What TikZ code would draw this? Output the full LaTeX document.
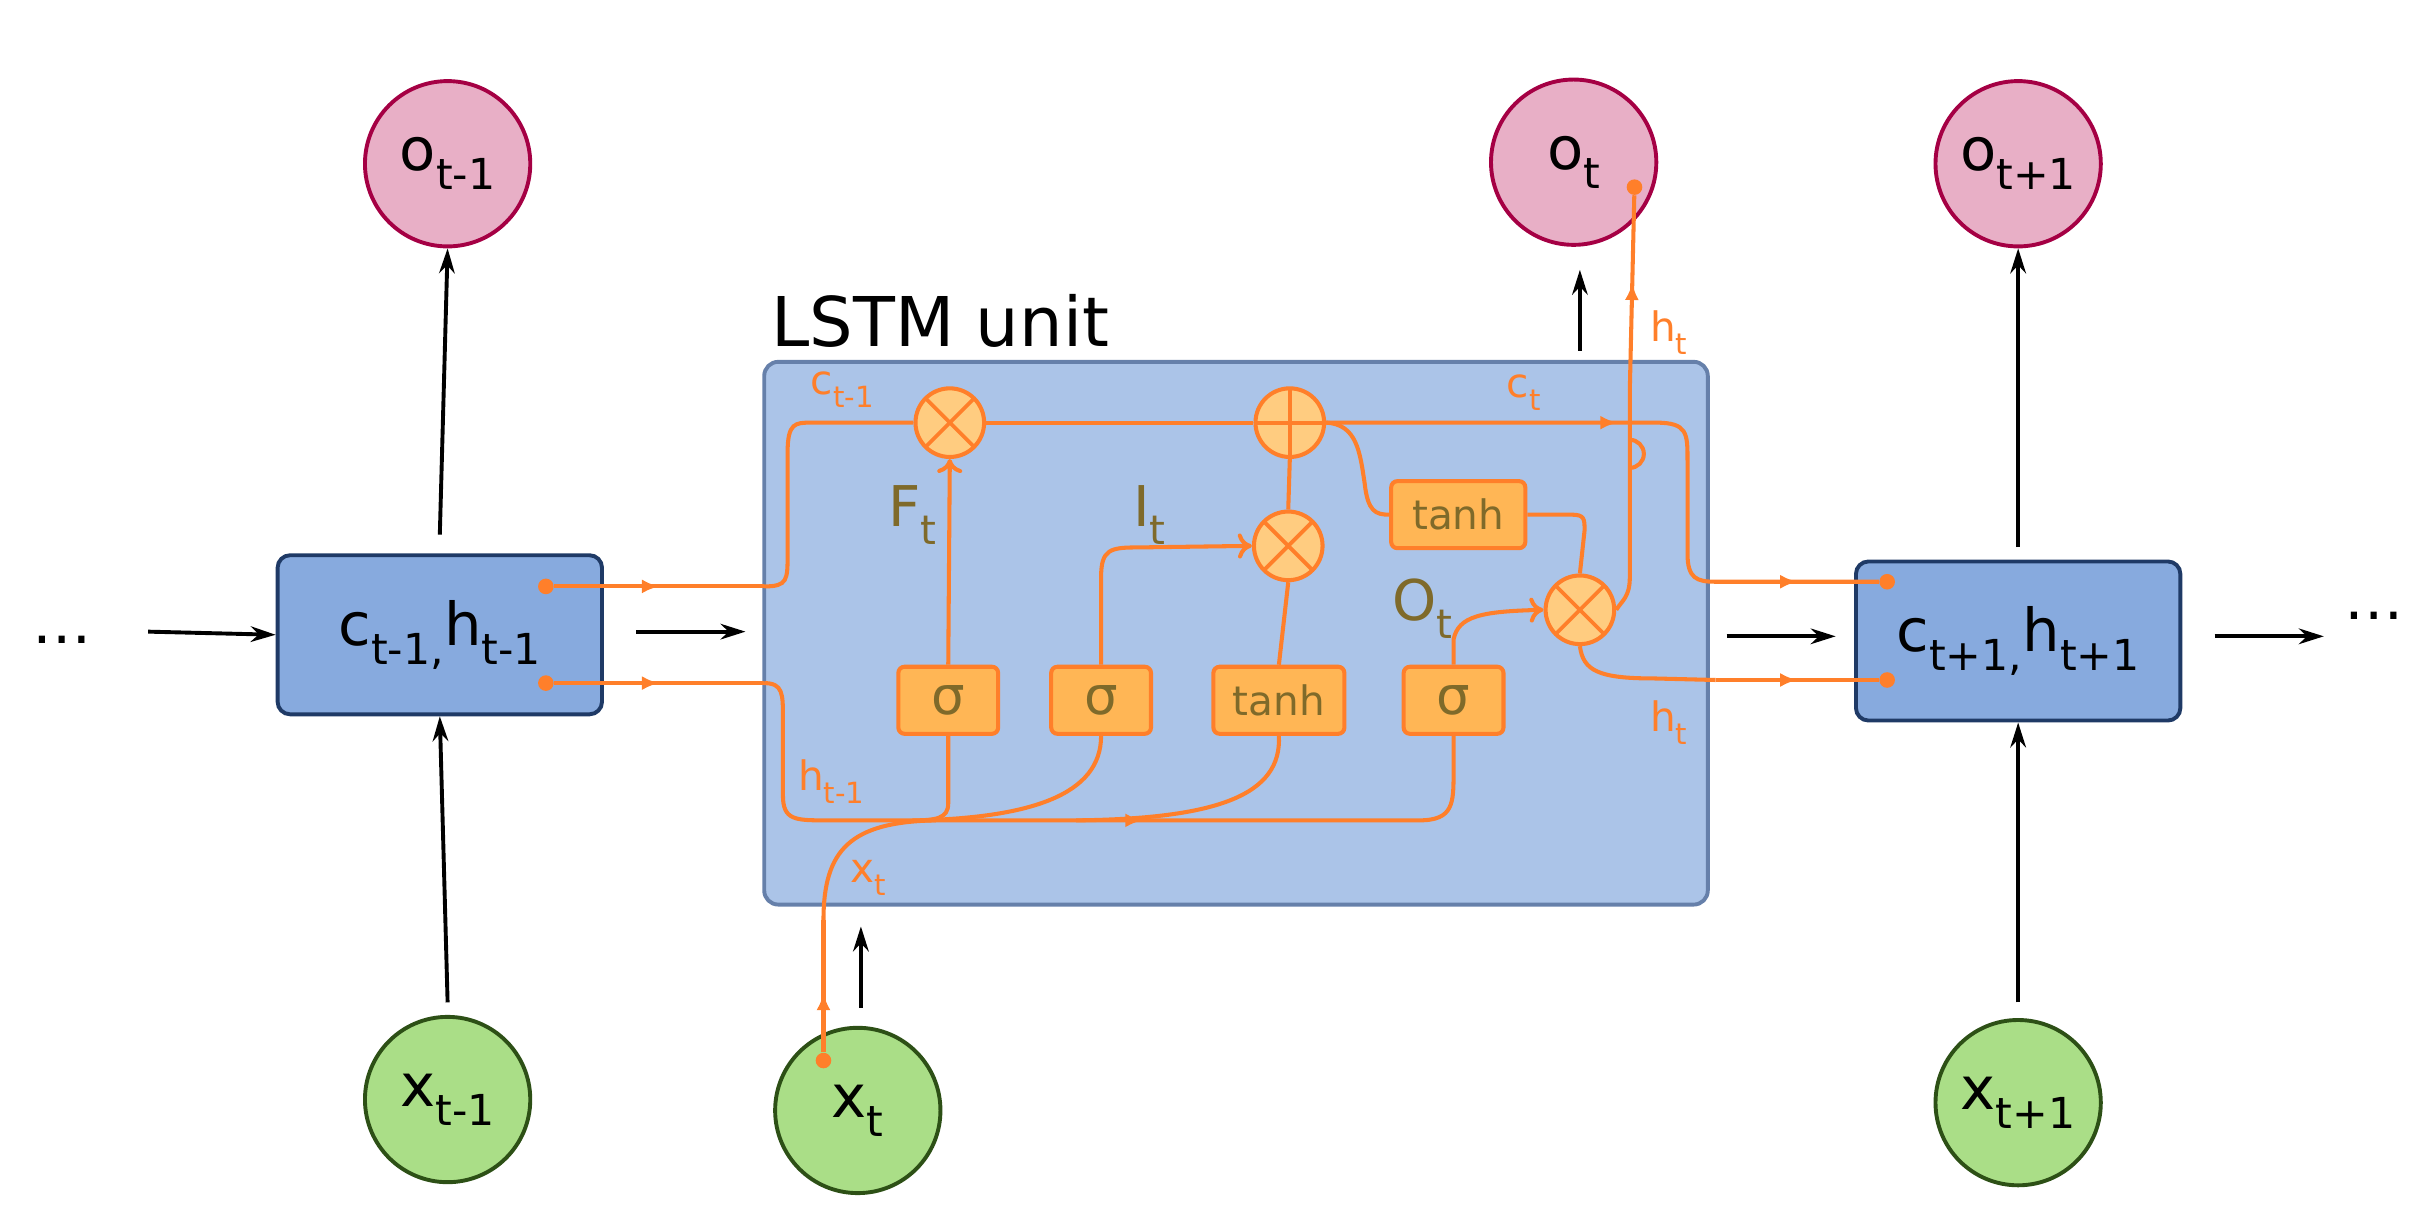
\documentclass[tikz,border=0pt]{standalone}
\usepackage{fontspec}
\setmainfont{DejaVu Sans}
\usetikzlibrary{arrows.meta,decorations.markings}
\definecolor{orng}{HTML}{FF7F2A}
\definecolor{opfill}{HTML}{FFCC80}
\definecolor{gfill}{HTML}{FFB655}
\definecolor{olive}{HTML}{7F6A2A}
\definecolor{pinkf}{HTML}{E8AFC6}
\definecolor{pinkd}{HTML}{A50044}
\definecolor{greenf}{HTML}{AADE87}
\definecolor{greend}{HTML}{2D5016}
\definecolor{boxf}{HTML}{87AADE}
\definecolor{boxd}{HTML}{1F3A66}
\definecolor{unitf}{HTML}{ABC4E8}
\definecolor{unitd}{HTML}{6680AA}
\newcommand{\fs}[1]{\fontsize{#1}{#1}\selectfont}
\newcommand{\sbs}[1]{\raisebox{-0.3em}{\fs{0.7\dimexpr\f@size pt}#1}}
\makeatletter
\newcommand{\lsub}[1]{\raisebox{-0.32em}{\fontsize{0.72\dimexpr\f@size pt\relax}{1}\selectfont #1}}
\makeatother
\begin{document}
\begin{tikzpicture}[x=1pt,y=-1pt,
 bk/.style={line width=2.5pt,-{Stealth[length=16pt,width=10pt]}},
 oline/.style={orng,line width=2.6pt},
 marr/.style={decoration={markings,mark=at position #1 with {\arrow{Latex[length=11pt,width=9pt]}}},postaction=decorate},
 oarr/.style={-{To[length=9pt,width=16pt,line width=2.6pt]}},
 onode/.style={circle,draw=pinkd,fill=pinkf,line width=2.5pt,minimum size=106pt,inner sep=0pt,font=\fs{38}},
 xnode/.style={circle,draw=greend,fill=greenf,line width=2.5pt,minimum size=106pt,inner sep=0pt,font=\fs{38}},
 cell/.style={rectangle,rounded corners=8pt,draw=boxd,fill=boxf,line width=2.5pt,minimum width=208pt,minimum height=102pt,font=\fs{38}},
 gate/.style={rectangle,rounded corners=4pt,draw=orng,fill=gfill,line width=2.6pt,minimum height=43pt,inner sep=0pt,text=olive},
 op/.style={circle,draw=orng,fill=opfill,line width=2.6pt,minimum size=44pt,inner sep=0pt},
 times/.style={op,path picture={\draw[orng,line width=2.4pt] (path picture bounding box.north west)--(path picture bounding box.south east) (path picture bounding box.south west)--(path picture bounding box.north east);}},
 plus/.style={op,path picture={\draw[orng,line width=2.4pt] (path picture bounding box.north)--(path picture bounding box.south) (path picture bounding box.west)--(path picture bounding box.east);}},
 olab/.style={orng,font=\fs{26}},
 glab/.style={olive,font=\fs{36}},
 dot/.style={circle,fill=orng,inner sep=0pt,minimum size=10pt}]
\useasboundingbox (0,0) rectangle (1560,783.5);
% unit box
\node[draw=unitd,fill=unitf,line width=2.5pt,rounded corners=9pt,minimum width=605pt,minimum height=348pt] (unit) at (792.5,406) {};
\node[font=\fs{44},anchor=base west] (title) at (491,222) {LSTM unit};
% outer nodes
\node[onode] (o1) at (287,105) {o\lsub{t-1}};
\node[onode] (o2) at (1009,104) {o\lsub{t}};
\node[onode] (o3) at (1294,105) {o\lsub{t+1}};
\node[xnode] (x1) at (287,705) {x\lsub{t-1}};
\node[xnode] (x2) at (550,712) {x\lsub{t}};
\node[xnode] (x3) at (1294,707) {x\lsub{t+1}};
\node[cell] (c1) at (282,407) {c\lsub{t-1,}h\lsub{t-1}};
\node[cell] (c3) at (1294,411) {c\lsub{t+1,}h\lsub{t+1}};
\node[font=\fs{38}] (dl) at (40,410) {\dots};
\node[font=\fs{38}] (dr) at (1522,395) {\dots};
% black arrows
\coordinate (a1) at (95,405); \coordinate (a2) at (408,405); \coordinate (a3) at (478,405);
\coordinate (a4) at (1107,408); \coordinate (a5) at (1177,408); \coordinate (a6) at (1420,408); \coordinate (a7) at (1490,408);
\draw[bk] (a1) -- (c1.west);
\draw[bk] (a2) -- (a3);
\draw[bk] (a4) -- (a5);
\draw[bk] (a6) -- (a7);
\draw[bk] (c1.north) ++(0,-12) -- (o1.south);
\draw[bk] (x1.north) ++(0,-8) -- (c1.south);
\draw[bk] (c3.north) ++(0,-8) -- (o3.south);
\draw[bk] (x3.north) ++(0,-10) -- (c3.south);
\coordinate (u1) at (1013,225); \coordinate (u2) at (1013,173);
\draw[bk] (u1) -- (u2);
\coordinate (u3) at (552,646); \coordinate (u4) at (552,594);
\draw[bk] (u3) -- (u4);
% ops and gates
\node[times] (fx) at (609,271) {};
\node[plus] (px) at (827,271) {};
\node[times] (ix) at (826,350) {};
\node[times] (ox) at (1013,391) {};
\node[gate,minimum width=86pt,font=\fs{26}] (th1) at (935,330) {tanh};
\node[gate,minimum width=64pt,font=\fs{34}] (s1) at (608,449) {σ};
\node[gate,minimum width=64pt,font=\fs{34}] (s2) at (706,449) {σ};
\node[gate,minimum width=84pt,font=\fs{26}] (th2) at (820,449) {tanh};
\node[gate,minimum width=64pt,font=\fs{34}] (s3) at (932,449) {σ};
% dots
\node[dot] (dc) at (350,376) {};
\node[dot] (dh) at (350,438) {};
\node[dot] (dc3) at (1210,373) {};
\node[dot] (dh3) at (1210,436) {};
\node[dot] (dx) at (528,680) {};
\node[dot] (dot) at (1048,120) {};
% orange lines
\draw[oline,marr=0.5] (dc) -- (490,376);
\draw[oline] (490,376) .. controls (505,376) and (505,372) .. (505,355) -- (505,290) .. controls (505,271) and (510,271) .. (520,271) -- (fx.west);
\draw[oline] (fx.east) -- (px.west);
\draw[oline,marr=0.42] (px.east) -- (1062,271) .. controls (1082,271) and (1082,278) .. (1082,295) -- (1082,355) .. controls (1082,371) and (1088,373) .. (1100,373) -- (dc3);
\draw[oline,marr=0.5] (1100,373) -- (dc3);
\draw[oline] (px.east) .. controls (870,272) and (872,290) .. (875,310) .. controls (877,328) and (882,330) .. (th1.west);
\draw[oline] (th1.east) -- (1008,330) .. controls (1016,330) and (1016,333) .. (1016,340) -- (ox.north);
\draw[oline] (ox.east) .. controls (1040,385) and (1045,383) .. (1045,370) -- (1045,282) arc[start angle=-90,end angle=90,radius=9] -- (1045,250);
\draw[oline,marr=0.55] (1045,250) -- (dot);
\draw[oline] (ox.south) .. controls (1015,430) and (1025,435) .. (1060,435) -- (1100,436);
\draw[oline,marr=0.5] (1100,436) -- (dh3);
\draw[oline,marr=0.5] (dh) -- (490,438);
\draw[oline] (490,438) .. controls (502,438) and (502,445) .. (502,460) -- (502,510) .. controls (502,526) and (510,526) .. (530,526) -- (600,526);
\draw[oline,marr=0.35] (600,526) -- (910,526) .. controls (932,526) and (932,515) .. (932,495) -- (s3.south);
\draw[oline,oarr] (s1.north) -- (fx.south);
\draw[oline] (s1.south) -- (608,515) .. controls (608,525) and (600,526) .. (585,526);
\draw[oline,oarr] (s2.north) -- (706,370) .. controls (706,352) and (712,351) .. (730,351) -- (ix.west);
\draw[oline] (s2.south) .. controls (706,510) and (660,524) .. (590,526);
\draw[oline] (th2.north) -- (ix.south);
\draw[oline] (ix.north) -- (px.south);
\draw[oline] (th2.south) .. controls (822,510) and (780,525) .. (690,526);
\draw[oline,oarr] (s3.north) -- (932,410) .. controls (935,395) and (950,392) .. (ox.west);
\draw[oline,marr=0.45] (dx) -- (528,590);
\draw[oline] (528,590) .. controls (528,545) and (545,527) .. (600,526);
% labels
\node[olab] (l1) at (540,250) {c\lsub{t-1}};
\node[olab] (l2) at (977,252) {c\lsub{t}};
\node[olab] (l3) at (1070,213) {h\lsub{t}};
\node[olab] (l4) at (1070,463) {h\lsub{t}};
\node[olab] (l5) at (533,501) {h\lsub{t-1}};
\node[olab] (l6) at (557,563) {x\lsub{t}};
\node[glab] (g1) at (585,330) {F\lsub{t}};
\node[glab] (g2) at (737,330) {I\lsub{t}};
\node[glab] (g3) at (912,390) {O\lsub{t}};
\end{tikzpicture}
\end{document}
